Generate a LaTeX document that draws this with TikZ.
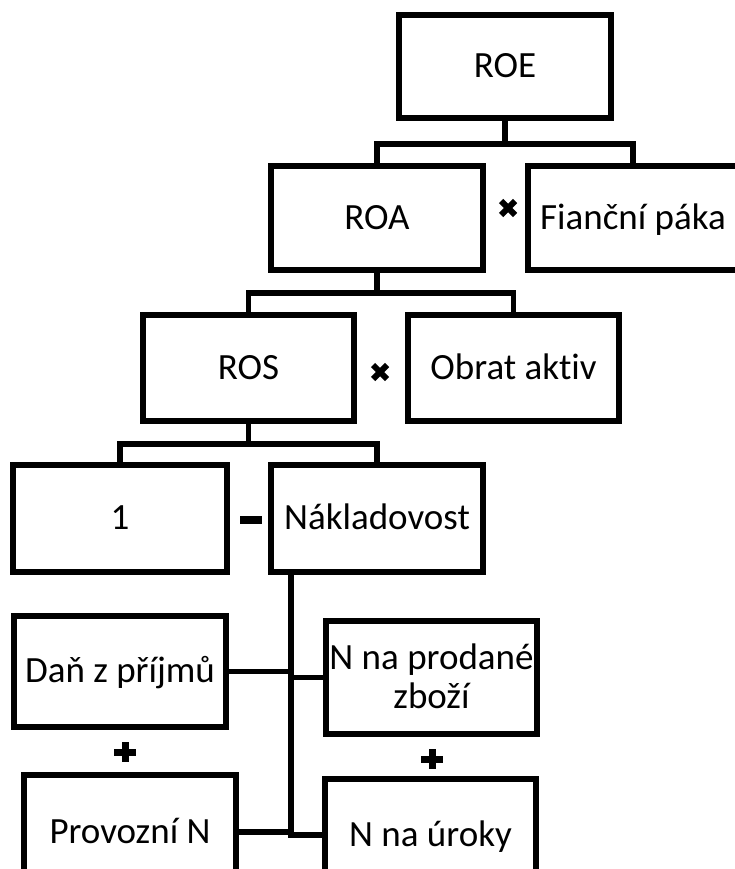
\documentclass[tikz,border=0pt]{standalone}
\usepackage{fontspec}
\setmainfont{Carlito}[Ligatures={NoCommon}]
\begin{document}
\begin{tikzpicture}[x=1pt,y=-1pt,
  box/.style={draw, line width=5.5pt, outer sep=0pt, inner sep=0pt,
    font=\fontsize{37}{39}\selectfont, align=center},
  onel/.style={text height=26pt, text depth=4pt},
  conn/.style={line width=5.5pt},
  opx/.style={line width=6pt},
  opp/.style={line width=7pt},
]
\useasboundingbox (0,0) rectangle (735,869);
\clip (0,0) rectangle (735,869);

\node[box,onel,minimum width=212pt,minimum height=103pt] (roe) at (505,66.5) {ROE};
\node[box,onel,minimum width=212pt,minimum height=104pt] (roa) at (377,218) {ROA};
\node[box,onel,minimum width=210pt,minimum height=104pt] (fin) at (633,218) {Fianční páka};
\node[box,onel,minimum width=211pt,minimum height=106pt] (ros) at (248.5,368) {ROS};
\node[box,onel,minimum width=211pt,minimum height=106pt] (obr) at (513.5,368) {Obrat aktiv};
\node[box,onel,minimum width=214pt,minimum height=107pt] (one) at (120,518.5) {1};
\node[box,onel,minimum width=212pt,minimum height=107pt] (nak) at (377,518.5) {Nákladovost};
\node[box,onel,minimum width=212pt,minimum height=111pt] (dan) at (120,671.5) {Daň z příjmů};
\node[box,minimum width=211pt,minimum height=113pt] (pro) at (431.5,677.5)
  {\rule{0pt}{26pt}N na prodané\\zboží\rule[-4pt]{0pt}{4pt}};
\node[box,onel,minimum width=212pt,minimum height=114pt] (prov) at (130,832) {Provozní N};
\node[box,onel,minimum width=211pt,minimum height=112pt] (uro) at (430.5,835) {N na úroky};

% connectors
\draw[conn] (roe.south) -- ++(0,26);
\draw[conn] (roa.north) -- ++(0,-22) -| (fin.north);
\draw[conn] (roa.south) -- ++(0,23);
\draw[conn] (ros.north) -- ++(0,-22) -| (obr.north);
\draw[conn] (ros.south) -- ++(0,23);
\draw[conn] (one.north) -- ++(0,-21) -| (nak.north);
\coordinate (t0) at ([xshift=20pt]nak.south west);
\draw[conn] (t0) |- (uro.west);
\draw[conn] (dan.east) -- (dan.east -| t0);
\draw[conn] (pro.west) -- (pro.west -| t0);
\draw[conn] (prov.east) -- (prov.east -| t0);

% operators
\draw[opx] (501,201) -- (515,215) (501,215) -- (515,201);
\draw[opx] (373,365) -- (387,379) (373,379) -- (387,365);
\draw[line width=8pt] (240,520) -- (262,520);
\draw[opp] (114,752) -- (136,752) (125,742) -- (125,762);
\draw[opp] (421,759) -- (443,759) (432,749) -- (432,769);
\end{tikzpicture}
\end{document}
